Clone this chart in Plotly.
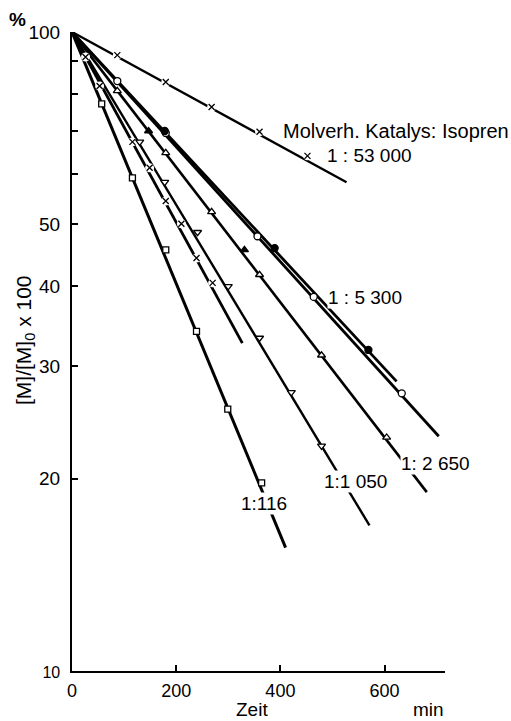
import plotly.graph_objects as go

# ---------------- data ----------------
# time in min, [M]/[M]0 x 100 in %
t_53000 = [87, 180, 268, 360, 452]
y_53000 = [92.0, 83.5, 76.3, 69.8, 64.0]
fit_t_53000 = [0, 527]
fit_y_53000 = [100, 58.2]

t_5300_open = [87, 180, 356, 464, 633]
y_5300_open = [83.8, 69.5, 47.9, 38.5, 27.2]
fit_t_5300_open = [0, 704]
fit_y_5300_open = [100, 23.3]

t_5300_fill = [178, 389, 569]
y_5300_fill = [70.0, 45.9, 31.8]
fit_t_5300_fill = [0, 623]
fit_y_5300_fill = [100, 28.4]

t_2650_open = [87, 180, 268, 360, 479, 604]
y_2650_open = [80.9, 64.7, 52.3, 41.7, 31.2, 23.2]
t_2650_fill = [147, 331]
y_2650_fill = [70.0, 45.6]
fit_t_2650 = [0, 681]
fit_y_2650 = [100, 19.05]

t_1050 = [130, 178, 241, 300, 360, 421, 479]
y_1050 = [67.3, 58.2, 48.6, 40.0, 33.2, 27.3, 22.5]
fit_t_1050 = [0, 571]
fit_y_1050 = [100, 16.9]

t_x2 = [26, 53, 116, 149, 180, 210, 239, 270]
y_x2 = [91.4, 82.3, 67.3, 61.3, 54.4, 50.1, 44.3, 40.5]
fit_t_x2 = [0, 327]
fit_y_x2 = [100, 32.6]

t_116 = [57, 116, 180, 239, 299, 364]
y_116 = [77.2, 59.1, 45.6, 34.0, 25.7, 19.7]
fit_t_116 = [0, 410]
fit_y_116 = [100, 15.6]

x_tickvals = [0, 200, 400, 600]
x_ticktext = ["0", "200", "400", "600"]
y_tickvals = [10, 20, 30, 40, 50, 100]
y_ticktext = ["<span style='font-size:16px'>10</span>", "20", "30", "40", "50", "100"]
y_minor_vals = [60, 70, 80, 90]

ratio_labels = ["1 : 53 000", "1 : 5 300", "1: 2 650", "1:1 050", "1:116"]
legend_title = "Molverh. Katalys: Isopren"

# ---------------- figure ----------------
FONT = "Liberation Sans, Arial, sans-serif"
fig = go.Figure()

fits = [
    (fit_t_53000, fit_y_53000, 2.4),
    (fit_t_5300_open, fit_y_5300_open, 2.8),
    (fit_t_5300_fill, fit_y_5300_fill, 2.8),
    (fit_t_2650, fit_y_2650, 2.6),
    (fit_t_1050, fit_y_1050, 2.4),
    (fit_t_x2, fit_y_x2, 2.8),
    (fit_t_116, fit_y_116, 3.0),
]
for fx, fy, w in fits:
    fig.add_trace(go.Scatter(x=fx, y=fy, mode="lines",
                             line=dict(color="black", width=w),
                             hoverinfo="skip", showlegend=False))

# white underlays to break the lines at cross markers
for tx, ty in [(t_53000, y_53000), (t_x2, y_x2)]:
    fig.add_trace(go.Scatter(x=tx, y=ty, mode="markers",
                             marker=dict(symbol="circle", size=9, color="white",
                                         line=dict(width=0)),
                             hoverinfo="skip", showlegend=False))

markers = [
    (t_53000, y_53000, "x-thin", 6, "black"),
    (t_x2, y_x2, "x-thin", 6, "black"),
    (t_5300_open, y_5300_open, "circle", 7, "white"),
    (t_5300_fill, y_5300_fill, "circle", 7, "black"),
    (t_2650_open, y_2650_open, "triangle-up", 7, "white"),
    (t_2650_fill, y_2650_fill, "triangle-up", 7, "black"),
    (t_1050, y_1050, "triangle-down", 7, "white"),
    (t_116, y_116, "square", 6, "white"),
]
for tx, ty, sym, sz, fill in markers:
    fig.add_trace(go.Scatter(x=tx, y=ty, mode="markers",
                             marker=dict(symbol=sym, size=sz, color=fill,
                                         line=dict(color="black", width=1.3)),
                             showlegend=False))

title_font = dict(family=FONT, size=20, color="black")
ann_font = dict(family=FONT, size=19, color="black")
labels = [
    (legend_title, 404, 1.845, title_font),
    (ratio_labels[0], 487, 1.8075, ann_font),
    (ratio_labels[1], 489, 1.585, ann_font),
    (ratio_labels[2], 629, 1.3255, ann_font),
    (ratio_labels[3], 481, 1.2958, ann_font),
    (ratio_labels[4], 322, 1.2629, ann_font),
]
for txt, ax_, ay_, f in labels:
    fig.add_annotation(x=ax_, y=ay_, xref="x", yref="y", text=txt,
                       showarrow=False, xanchor="left", yanchor="middle",
                       font=f, bgcolor="white", borderpad=0)

fig.add_annotation(text="[M]/[M]<sub>0</sub> x 100", xref="paper", yref="paper",
                   x=-0.126, y=0.518, textangle=-90, showarrow=False,
                   xanchor="center", yanchor="middle",
                   font=dict(family=FONT, size=21, color="black"))
fig.add_annotation(text="<b>%</b>", xref="paper", yref="paper",
                   x=-0.145, y=1.019, showarrow=False,
                   xanchor="center", yanchor="middle",
                   font=dict(family=FONT, size=19, color="black"))
fig.add_annotation(text="Zeit", xref="paper", yref="paper",
                   x=(252 - 72) / 373, y=-(709 - 671) / 639, showarrow=False,
                   xanchor="center", yanchor="middle", font=ann_font)
fig.add_annotation(text="min", xref="paper", yref="paper",
                   x=(428 - 72) / 373, y=-(709 - 671) / 639, showarrow=False,
                   xanchor="center", yanchor="middle", font=ann_font)

fig.update_layout(
    width=511, height=721,
    margin=dict(l=72, r=66, t=32, b=50, pad=0),
    paper_bgcolor="white", plot_bgcolor="white",
    font=dict(family=FONT, size=18, color="black"),
    showlegend=False,
    xaxis=dict(range=[0, 716], showgrid=False, zeroline=False,
               showline=True, linecolor="black", linewidth=2,
               ticks="inside", ticklen=6, tickwidth=1.5, tickcolor="black",
               tickmode="array", tickvals=x_tickvals, ticktext=x_ticktext,
               tickfont=dict(family=FONT, size=18), ticklabelstandoff=2),
    yaxis=dict(type="log", range=[1, 2], showgrid=False, zeroline=False,
               showline=True, linecolor="black", linewidth=2,
               ticks="inside", ticklen=6, tickwidth=1.5, tickcolor="black",
               tickmode="array", tickvals=y_tickvals, ticktext=y_ticktext,
               tickfont=dict(family=FONT, size=19), ticklabelstandoff=6,
               minor=dict(tickmode="array", tickvals=y_minor_vals,
                          ticks="inside", ticklen=6, tickwidth=1.5,
                          tickcolor="black", showgrid=False)),
)

fig.write_html("out.html")
